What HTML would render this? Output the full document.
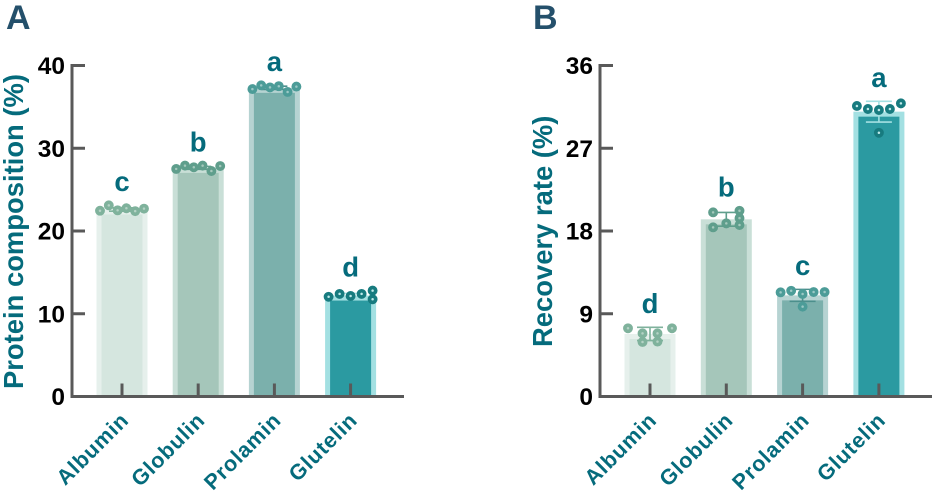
<!DOCTYPE html>
<html lang="en">
<head>
<meta charset="utf-8">
<title>Protein composition and recovery rate</title>
<style>
html,body{margin:0;padding:0;background:#fff;}
svg{display:block;font-family:"Liberation Sans",Arial,sans-serif;}
</style>
</head>
<body>
<svg id="chart" width="936" height="495" viewBox="0 0 936 495" xmlns="http://www.w3.org/2000/svg"></svg>
<script>
// Shared categories
var categories = ['Albumin', 'Globulin', 'Prolamin', 'Glutelin'];

// Panel A data
var compositionTicks = [0, 10, 20, 30, 40];
var compositionMeans = [22.6, 27.63, 37.3, 12.2];
var compositionErrors = [0.2, 0.18, 0.2, 0.25];
var compositionLetters = ['c', 'b', 'a', 'd'];
var compositionAlbumin = [22.45, 23.1, 22.5, 22.75, 22.4, 22.7];
var compositionGlobulin = [27.5, 27.9, 27.7, 27.9, 27.25, 27.85];
var compositionProlamin = [37.15, 37.6, 37.35, 37.5, 36.8, 37.45];
var compositionGlutelin = [12.05, 12.4, 12.15, 12.4, 12.8, 11.75];

// Panel B data
var recoveryTicks = [0, 9, 18, 27, 36];
var recoveryMeans = [6.8, 19.27, 11.0, 30.98];
var recoveryErrors = [0.72, 0.75, 0.65, 1.13];
var recoveryLetters = ['d', 'b', 'c', 'a'];
var recoveryAlbumin = [7.42, 6.87, 5.93, 6.87, 5.97, 7.42];
var recoveryGlobulin = [20.03, 20.2, 19.4, 18.65, 18.4, 18.83];
var recoveryProlamin = [11.33, 11.5, 11.15, 11.36, 11.36, 9.77];
var recoveryGlutelin = [31.6, 31.27, 31.16, 31.27, 31.88, 28.68];

// Beeswarm column of each replicate
var swarmA = [[-2.5,-1.5,-0.5,0.5,1.5,2.5],[-2.5,-1.5,-0.5,0.5,1.5,2.5],[-2.5,-1.5,-0.5,0.5,1.5,2.5],[-2.5,-1.25,0,1.25,2.5,2.5]];
var swarmB = [[-2.5,-0.85,-0.85,0.85,0.85,2.5],[-1.5,1.5,1.5,1.5,-1.5,0],[-2.5,-1.3,0,1.25,2.5,0],[-2.5,-1.25,0,1.25,2.5,0]];

var NS = 'http://www.w3.org/2000/svg';
var root = document.getElementById('chart');
var AXIS = '#595959', TEAL = '#056b7c', NAVY = '#24506b';
var outerFill = ['#e6f0ec', '#c9dfd7', '#b6d3d2', '#a3e0e2'];
var innerFill = ['#d5e6df', '#a5c6ba', '#7bb0ac', '#2b9aa1'];
var dotFill = ['#7fb29c', '#5f9e8c', '#4c9c98', '#177b7f'];
var dotCore = ['#b5d3c5', '#a5c9bc', '#9cc9c6', '#bfeaea'];
var errFill = ['#7fb29c', '#5f9e8c', '#4c8f8c', '#a3e0e2'];

function el(tag, attrs, parent) {
  var n = document.createElementNS(NS, tag);
  for (var k in attrs) n.setAttribute(k, attrs[k]);
  parent.appendChild(n);
  return n;
}

function drawPanel(cfg) {
  var panel = el('g', {}, root);
  
  
  var y0 = 396.5, yTop = 65.5, axisMax = cfg.ticks[cfg.ticks.length - 1];
  function y(v) { return y0 - v / axisMax * (y0 - yTop); }
  function x(i) { return cfg.x0 + i * cfg.step; }

  var letter = el('text', {x: cfg.letterX, y: 29, 'font-size': 34, 'font-weight': 'bold', fill: NAVY}, panel);
  letter.textContent = cfg.letter;
  
  

  var title = el('text', {transform: 'translate(' + cfg.titleX + ',' + cfg.titleY + ') rotate(-90)', 'font-size': 27.4, 'font-weight': 'bold', fill: TEAL}, panel);
  title.textContent = cfg.title;
  
  

  categories.forEach(function (cat, i) {
    var cx = x(i), top = y(cfg.means[i]);
    var g = el('g', {}, panel);
    
    

    var outer = el('rect', {x: cx - 25.5, y: top, width: 51, height: 396 - top, fill: outerFill[i]}, g);
    
    

    var inner = el('rect', {x: cx - 20.5, y: top + 5, width: 41, height: 391 - top, fill: innerFill[i]}, g);
    
    

    var hi = y(cfg.means[i] + cfg.errors[i]), lo = y(cfg.means[i] - cfg.errors[i]);
    var err = el('path', {d: 'M' + (cx - 13) + ' ' + hi + 'H' + (cx + 13) + 'M' + cx + ' ' + hi + 'V' + lo + 'M' + (cx - 13) + ' ' + lo + 'H' + (cx + 13), fill: 'none', stroke: errFill[i], 'stroke-width': 1.6}, g);
    
    

    var tick = el('line', {x1: cx, x2: cx, y1: 383.5, y2: 396, stroke: AXIS, 'stroke-width': 3}, g);
    
    

    var minY = hi;
    cfg.points[i].forEach(function (v, j) {
      var px = cx + cfg.swarm[i][j] * 8.8, py = y(v);
      if (py < minY) minY = py;
      var dot = el('circle', {cx: px, cy: py, r: 3.1, fill: dotCore[i], stroke: dotFill[i], 'stroke-width': 3.7}, g);
      
      
    });

    var sig = el('text', {x: cx, y: minY - 14.3, 'text-anchor': 'middle', 'font-size': 27.5, 'font-weight': 'bold', fill: TEAL}, g);
    sig.textContent = cfg.letters[i];
    
    

    var lab = el('text', {transform: 'translate(' + (cx + 8) + ',421.5) rotate(-45)', 'text-anchor': 'end', 'font-size': 21.5, 'font-weight': 'bold', 'letter-spacing': 0.8, fill: TEAL}, g);
    lab.textContent = cat;
    
    
  });

  var yAxis = el('line', {x1: cfg.axisX, x2: cfg.axisX, y1: yTop - 1.5, y2: y0 + 1.5, stroke: AXIS, 'stroke-width': 3}, panel);
  
  

  var xAxis = el('line', {x1: cfg.axisX - 1.5, x2: cfg.axisEnd, y1: y0, y2: y0, stroke: AXIS, 'stroke-width': 3}, panel);
  
  

  cfg.ticks.forEach(function (t) {
    var ty = y(t);
    if (t !== 0) {
      var tk = el('line', {x1: cfg.axisX, x2: cfg.axisX + 13, y1: ty, y2: ty, stroke: AXIS, 'stroke-width': 3}, panel);
      
      
    }
    var tl = el('text', {x: cfg.axisX - 7, y: ty + 8.5, 'text-anchor': 'end', 'font-size': 24.5, 'font-weight': 'bold', fill: '#000'}, panel);
    tl.textContent = t;
    
    
  });
}

drawPanel({
  name: 'panel-a-protein-composition', letter: 'A', letterX: 6, title: 'Protein composition (%)',
  titleX: 23, titleY: 389, axisX: 72, axisEnd: 404, x0: 122, step: 76.2,
  ticks: compositionTicks, means: compositionMeans, errors: compositionErrors, letters: compositionLetters,
  points: [compositionAlbumin, compositionGlobulin, compositionProlamin, compositionGlutelin], swarm: swarmA
});
drawPanel({
  name: 'panel-b-recovery-rate', letter: 'B', letterX: 533, title: 'Recovery rate (%)',
  titleX: 552, titleY: 347, axisX: 600, axisEnd: 932, x0: 650, step: 76.3,
  ticks: recoveryTicks, means: recoveryMeans, errors: recoveryErrors, letters: recoveryLetters,
  points: [recoveryAlbumin, recoveryGlobulin, recoveryProlamin, recoveryGlutelin], swarm: swarmB
});
</script>
</body>
</html>
